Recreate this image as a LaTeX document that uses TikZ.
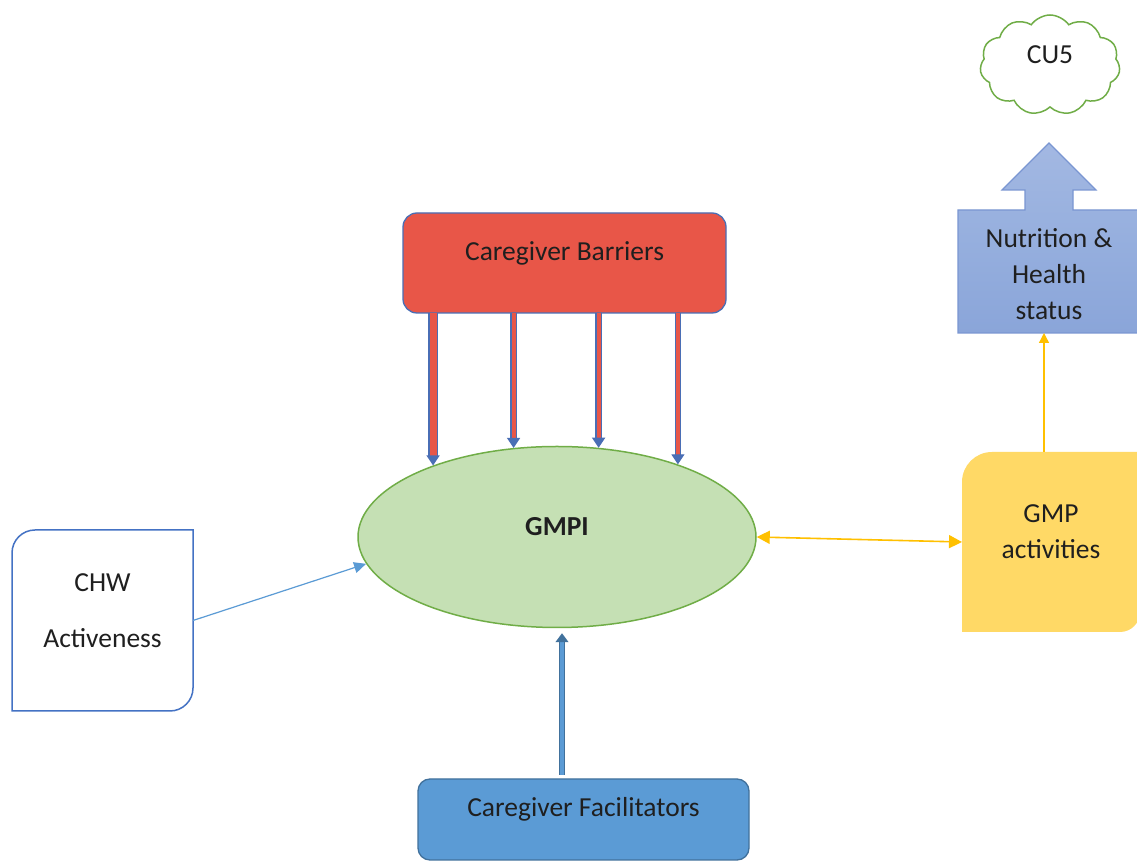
\documentclass[tikz,border=0pt]{standalone}
\usepackage{fontspec}
\setmainfont{Carlito}
\usepackage[HTML]{xcolor}
\usepackage{tikz}
\usetikzlibrary{positioning, arrows.meta, shapes.geometric, shapes.symbols, backgrounds}

\definecolor{barred}{HTML}{E85648}
\definecolor{barblue}{HTML}{4A6EB5}
\definecolor{gmpigreen}{HTML}{C5E0B4}
\definecolor{gmpiline}{HTML}{70AD47}
\definecolor{chwblue}{HTML}{4472C4}
\definecolor{facblue}{HTML}{5B9BD5}
\definecolor{facline}{HTML}{41719C}
\definecolor{gmpyellow}{HTML}{FFD966}
\definecolor{arrowyellow}{HTML}{FFC000}
\definecolor{nutrtop}{HTML}{A3B8E2}
\definecolor{nutrbot}{HTML}{8AA5D9}
\definecolor{nutrline}{HTML}{7A96D2}

\begin{document}
\begin{tikzpicture}[x=1pt, y=1pt,
  txt/.style={font=\fontsize{27.5}{36}\selectfont, text=black!88, align=center},
  caption/.style={label={[txt, yshift=10pt]center:#1}},
  plain/.style={rectangle, inner sep=0pt, outer sep=0pt},
  barbox/.style={plain, rounded corners=14pt, draw=barblue, line width=1.3pt, fill=barred},
  facbox/.style={plain, rounded corners=12pt, draw=facline, line width=1.3pt, fill=facblue},
  barrow/.style={draw=barblue, line width=1.2pt, double=barred, double distance=#1,
    -{Triangle[length=10pt, width=13pt]}},
  farrow/.style={draw=facline, line width=1.2pt, double=facblue, double distance=4.5pt,
    -{Triangle[length=9pt, width=13pt]}},
  yarrow/.style={arrowyellow, line width=1.6pt},
  ytip/.tip={Triangle[length=13pt, width=13pt]}]
\useasboundingbox (0,0) rectangle (1137,861);

% boxes
\node[barbox, minimum width=323pt, minimum height=100pt, caption=Caregiver Barriers] (bar) at (564.5,598) {};
\node[ellipse, draw=gmpiline, line width=1.5pt, fill=gmpigreen, minimum width=398pt, minimum height=181pt, inner sep=0pt,
  label={[txt, font=\fontsize{27.5}{36}\selectfont\bfseries, yshift=10pt]center:GMPI}] (gmpi) at (557,324) {};
\node[plain, minimum width=181pt, minimum height=181pt, caption={CHW\\[20pt]Activeness}] (chw) at (102.5,240.5) {};
\node[facbox, minimum width=331pt, minimum height=81pt, caption=Caregiver Facilitators] (fac) at (583.5,41.5) {};
\node[plain, minimum width=178pt, minimum height=180pt, caption={GMP\\activities}] (gmp) at (1051,319) {};
\node[plain, minimum width=182pt, minimum height=123pt, label={[txt, yshift=-3pt]center:Nutrition \&\\Health\\status}] (nutr) at (1049,589.5) {};
\node[cloud, cloud puffs=11, cloud puff arc=110, aspect=1.35, draw=gmpiline, line width=1.5pt, fill=white,
  minimum width=140pt, minimum height=100pt, caption=CU5] (cu5) at (1050,796) {};

% shapes behind the text
\begin{scope}[on background layer]
\fill[white] (0,0) rectangle (1137,861);
\draw[chwblue, line width=1.5pt, fill=white] (chw.south west) -- ([yshift=-23pt]chw.north west)
  arc[start angle=180, end angle=90, radius=23pt] -- (chw.north east) -- ([yshift=23pt]chw.south east)
  arc[start angle=0, end angle=-90, radius=23pt] -- cycle;
\fill[gmpyellow] (gmp.south west) -- ([yshift=-30pt]gmp.north west)
  arc[start angle=180, end angle=90, radius=30pt] -- (gmp.north east) -- ([yshift=20pt]gmp.south east)
  arc[start angle=0, end angle=-90, radius=20pt] -- cycle;
\draw[nutrline, line width=1.2pt, top color=nutrtop, bottom color=nutrbot]
  (nutr.south west) -- (nutr.north west) -- ([xshift=-24pt]nutr.north) -- ([xshift=-24pt, yshift=20pt]nutr.north)
  -- ([xshift=-47pt, yshift=20pt]nutr.north) -- ([yshift=67pt]nutr.north) -- ([xshift=47pt, yshift=20pt]nutr.north)
  -- ([xshift=24pt, yshift=20pt]nutr.north) -- ([xshift=24pt]nutr.north) -- (nutr.north east) -- (nutr.south east) -- cycle;
\end{scope}

% connectors
\foreach \a/\w in {150/7pt, 116/4pt, 65/4pt, 31/4pt}
  \draw[barrow=\w] (gmpi.\a |- bar.south) -- (gmpi.\a);
\draw[farrow, shorten <=4pt, shorten >=5pt] ([xshift=-21.5pt]fac.north) -- ([xshift=-21.5pt]fac.north |- gmpi.south);
\draw[facblue, line width=1.2pt, -{Triangle[length=12pt, width=11pt]}] (chw.east) -- (gmpi.188);
\draw[yarrow, ytip-ytip] (gmpi.east) -- (gmp.west);
\draw[yarrow, line width=1.3pt, -{Triangle[length=10pt, width=10pt]}] ([xshift=-7pt]gmp.north) -- ([xshift=-7pt]gmp.north |- nutr.south);
\end{tikzpicture}
\end{document}
